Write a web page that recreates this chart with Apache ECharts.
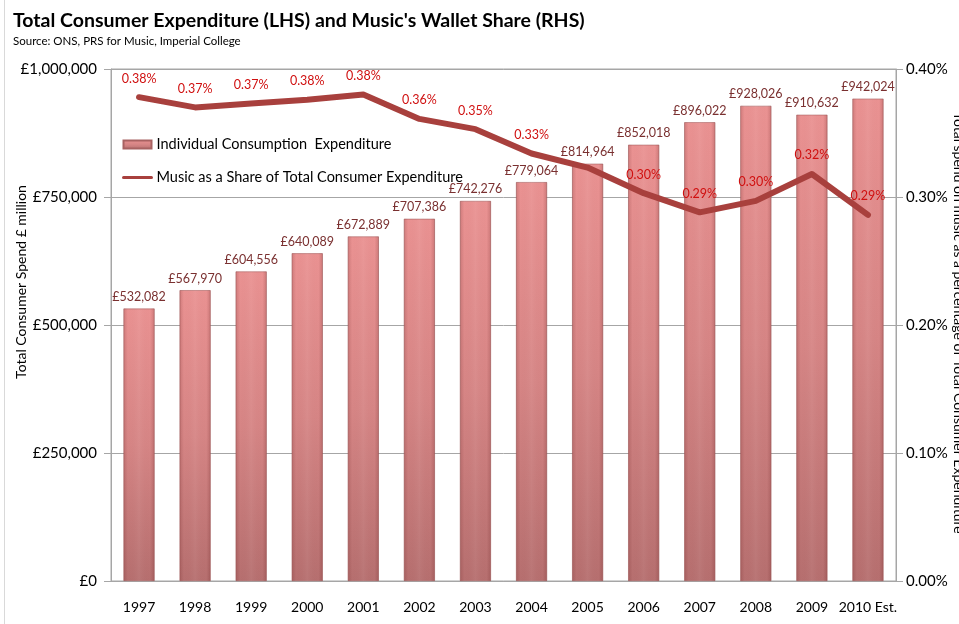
<!DOCTYPE html>
<html>
<head>
<meta charset="utf-8">
<script src="https://cdn.jsdelivr.net/npm/echarts@6/dist/echarts.min.js"></script>
<style>
html,body{margin:0;padding:0;background:#fff;}
#chart{width:959px;height:624px;}
</style>
</head>
<body>
<div id="chart"></div>
<script>
const years = ['1997','1998','1999','2000','2001','2002','2003','2004','2005','2006','2007','2008','2009','2010 Est.'];
const spend = [532082,567970,604556,640089,672889,707386,742276,779064,814964,852018,896022,928026,910632,942024];
const musicShare = [0.378,0.370,0.373,0.376,0.380,0.361,0.353,0.334,0.323,0.303,0.288,0.297,0.318,0.286];
const shareLabelShown = [true,true,true,true,true,true,true,true,false,true,true,true,true,true];
const leftTicks = ['£0','£250,000','£500,000','£750,000','£1,000,000'];
const rightTicks = ['0.00%','0.10%','0.20%','0.30%','0.40%'];

const FONT = 'Lato';
const LINE_COLOR = '#a8403d';
const chart = echarts.init(document.getElementById('chart'), null, {renderer:'canvas'});

function fmtMoney(v){ return '£' + Math.round(v).toLocaleString('en-GB'); }

const barGrad = new echarts.graphic.LinearGradient(0,0,0,1,[
  {offset:0, color:'#ea9292'},
  {offset:0.5, color:'#d68585'},
  {offset:1, color:'#b66f6f'}
]);
const barShade = new echarts.graphic.LinearGradient(0,0,1,0,[
  {offset:0, color:'rgba(90,20,20,0.18)'},
  {offset:0.14, color:'rgba(90,20,20,0.0)'},
  {offset:0.5, color:'rgba(255,255,255,0.05)'},
  {offset:0.86, color:'rgba(90,20,20,0.0)'},
  {offset:1, color:'rgba(90,20,20,0.2)'}
]);

const option = {
  animation:false,
  textStyle:{fontFamily:FONT},
  title:{
    text:"Total Consumer Expenditure (LHS) and Music's Wallet Share (RHS)",
    subtext:'Source: ONS, PRS for Music, Imperial College',
    left:8, top:6, itemGap:4,
    textStyle:{fontFamily:FONT,fontSize:19.5,fontWeight:'bold',color:'#000'},
    subtextStyle:{fontFamily:FONT,fontSize:11.5,color:'#000'}
  },
  grid:{left:111,right:63,top:69,bottom:43,show:true,borderColor:'#a6a6a6',borderWidth:1},
  legend:{
    orient:'vertical', left:117, top:132, itemGap:18, itemWidth:28, itemHeight:8,
    textStyle:{fontFamily:FONT,fontSize:14.5,color:'#000'},
    data:[
      {name:'Individual Consumption  Expenditure', icon:'rect'},
      {name:'Music as a Share of Total Consumer Expenditure', itemStyle:{opacity:0}, lineStyle:{width:3}}
    ]
  },
  xAxis:{
    type:'category', data:years,
    axisTick:{show:false},
    axisLine:{lineStyle:{color:'#a6a6a6'}},
    axisLabel:{fontFamily:FONT,fontSize:14,color:'#000',margin:19,interval:0}
  },
  yAxis:[
    {
      type:'value', min:0, max:1000000, interval:250000,
      axisLine:{show:true,lineStyle:{color:'#a6a6a6'}},
      axisTick:{show:true,length:7,lineStyle:{color:'#a6a6a6'}},
      splitLine:{lineStyle:{color:'#a6a6a6'}},
      axisLabel:{fontFamily:FONT,fontSize:15,color:'#000',margin:14,
        formatter:function(v){return leftTicks[Math.round(v/250000)];}}
    },
    {
      type:'value', min:0, max:0.4, interval:0.1,
      axisLine:{show:true,lineStyle:{color:'#a6a6a6'}},
      axisTick:{show:true,length:7,lineStyle:{color:'#a6a6a6'}},
      splitLine:{show:false},
      axisLabel:{fontFamily:FONT,fontSize:15,color:'#000',margin:10,
        formatter:function(v){return rightTicks[Math.round(v/0.1)];}}
    }
  ],
  series:[
    {
      name:'Individual Consumption  Expenditure',
      type:'bar', yAxisIndex:0, barWidth:31,
      data:spend,
      itemStyle:{color:barGrad, borderColor:'#a86262', borderWidth:0.6},
      label:{show:true,position:'top',distance:5,fontFamily:FONT,fontSize:12.5,color:'#7a3030',
        formatter:function(p){return fmtMoney(p.value);}}
    },
    {
      name:'shade',
      type:'bar', yAxisIndex:0, barWidth:31, barGap:'-100%', silent:true,
      data:spend,
      itemStyle:{color:barShade},
      label:{show:false}
    },
    {
      name:'Music as a Share of Total Consumer Expenditure',
      type:'line', yAxisIndex:1, symbol:'circle', symbolSize:2, showSymbol:true, z:5,
      data:musicShare.map(function(v,i){return {value:v,label:{show:shareLabelShown[i]}};}),
      lineStyle:{color:LINE_COLOR,width:6,cap:'round',join:'round'},
      itemStyle:{color:LINE_COLOR},
      label:{show:true,position:'top',distance:11,fontFamily:FONT,fontSize:12.5,color:'#d01010',
        formatter:function(p){return p.value.toFixed(2)+'%';}}
    }
  ],
  graphic:[
    {type:'text', x:21, y:282, rotation:Math.PI/2,
      style:{text:'Total Consumer Spend £ million',font:'14px '+FONT,fill:'#000',align:'center',verticalAlign:'middle'}},
    {type:'text', x:959, y:323, rotation:-Math.PI/2,
      style:{text:'Total spend on music as a percentage of Total Consumer Expenditure',font:'14px '+FONT,fill:'#000',align:'center',verticalAlign:'middle'}},
    {type:'line', shape:{x1:4.5,y1:0,x2:4.5,y2:624}, style:{stroke:'#d9d9d9',lineWidth:1}}
  ]
};
chart.setOption(option);
</script>
</body>
</html>
